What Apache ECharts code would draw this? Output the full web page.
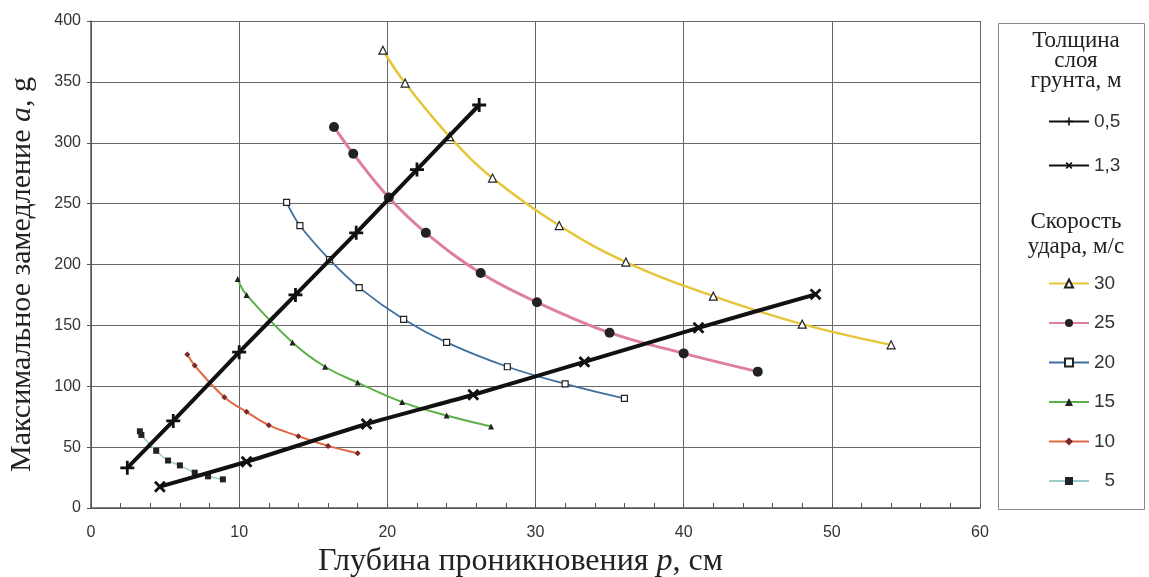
<!DOCTYPE html>
<html>
<head>
<meta charset="utf-8">
<script src="https://cdn.jsdelivr.net/npm/echarts@6/dist/echarts.min.js"></script>
<style>
  html, body { margin: 0; padding: 0; background: #fff; }
  #chart { width: 1149px; height: 577px; }
</style>
</head>
<body>
<div id="chart"></div>
<script>
// скорость удара, м/с: глубина p (см) и замедление a (g)
const depth30 = [19.7, 21.2, 24.2, 27.1, 31.6, 36.1, 42.0, 48.0, 54.0];
const accel30 = [376, 349, 305, 271, 232, 202, 174, 151, 134];
const depth25 = [16.4, 17.7, 20.1, 22.6, 26.3, 30.1, 35.0, 40.0, 45.0];
const accel25 = [313, 291, 255, 226, 193, 169, 144, 127, 112];
const depth20 = [13.2, 14.1, 16.1, 18.1, 21.1, 24.0, 28.1, 32.0, 36.0];
const accel20 = [251, 232, 204, 181, 155, 136, 116, 102, 90];
const depth15 = [9.9, 10.5, 13.6, 15.8, 18.0, 21.0, 24.0, 27.0];
const accel15 = [188, 175, 136, 116, 103, 87, 76, 67];
const depth10 = [6.5, 7.0, 9.0, 10.5, 12.0, 14.0, 16.0, 18.0];
const accel10 = [126, 117, 91, 79, 68, 59, 51, 45];
const depth5 = [3.3, 3.4, 4.4, 5.2, 6.0, 7.0, 7.9, 8.9];
const accel5 = [63, 60, 47, 39, 35, 29, 26, 23.5];

// толщина слоя грунта, м
const depthL05 = [2.45, 5.55, 10.0, 13.8, 17.9, 22.0, 26.2];
const accelL05 = [33, 71.5, 128, 175, 226, 278, 331];
const depthL13 = [4.65, 10.5, 18.6, 25.8, 33.3, 41.0, 48.9];
const accelL13 = [17.5, 38, 69, 93, 120, 148, 175.5];

const xTicks = [0, 10, 20, 30, 40, 50, 60];
const yTicks = [0, 50, 100, 150, 200, 250, 300, 350, 400];

const zip = (xs, ys) => xs.map((x, i) => [x, ys[i]]);

const crossPath = "path://M4,0 H6 V4 H10 V6 H6 V10 H4 V6 H0 V4 H4 Z";

const speedSeries = (name, xs, ys, color, symbol, size, fill, width) => ({
  name: name,
  type: "line",
  smooth: 0.4,
  data: zip(xs, ys),
  symbol: symbol,
  symbolSize: size,
  showSymbol: true,
  lineStyle: { color: color, width: width },
  itemStyle: { color: fill, borderColor: "#222", borderWidth: fill === "#fff" ? 1.2 : 0 },
  z: 2,
});

const layerSeries = (name, xs, ys, rotate) => ({
  name: name,
  type: "line",
  smooth: 0.2,
  data: zip(xs, ys),
  symbol: crossPath,
  symbolSize: 14,
  symbolRotate: rotate,
  lineStyle: { color: "#111", width: 4 },
  itemStyle: { color: "#111" },
  z: 4,
});

const legendText = { fontFamily: "Liberation Sans", fontSize: 19, color: "#333" };

const chart = echarts.init(document.getElementById("chart"));
const option = {
  backgroundColor: "#fff",
  animation: false,
  grid: { left: 91, right: 169, top: 21, bottom: 69, outerBoundsMode: "none" },
  xAxis: {
    type: "value",
    min: 0,
    max: 60,
    interval: 10,
    name: "{n|Глубина проникновения }{i|p}{n|, см}",
    nameLocation: "middle",
    nameGap: 38,
    nameTextStyle: {
      padding: [0, 30, 0, 0],
      rich: {
        n: { fontFamily: "Liberation Serif", fontSize: 32, color: "#222" },
        i: { fontFamily: "Liberation Serif", fontSize: 32, fontStyle: "italic", color: "#222" },
      },
    },
    axisLine: { lineStyle: { color: "#555", width: 1.5 } },
    axisTick: { show: true, inside: true, length: 5, lineStyle: { color: "#555" } },
    minorTick: { show: true, splitNumber: 5, length: 5, lineStyle: { color: "#555" } },
    axisLabel: {
      fontFamily: "Liberation Sans",
      fontSize: 16,
      color: "#333",
      margin: 17,
      formatter: (v) => (xTicks.includes(v) ? String(v) : ""),
    },
    splitLine: { show: true, lineStyle: { color: "#666", width: 1 } },
  },
  yAxis: {
    type: "value",
    min: 0,
    max: 400,
    interval: 50,
    name: "{n|Максимальное замедление }{i|a}{n|, g}",
    nameLocation: "middle",
    nameGap: 54,
    nameTextStyle: {
      padding: [0, 20, 0, 0],
      rich: {
        n: { fontFamily: "Liberation Serif", fontSize: 30, color: "#222" },
        i: { fontFamily: "Liberation Serif", fontSize: 30, fontStyle: "italic", color: "#222" },
      },
    },
    axisLine: { show: true, lineStyle: { color: "#555", width: 1.5 } },
    axisTick: { show: true, length: 4, lineStyle: { color: "#555" } },
    axisLabel: {
      fontFamily: "Liberation Sans",
      fontSize: 16,
      color: "#333",
      margin: 10,
      formatter: (v) => (yTicks.includes(v) ? String(v) : ""),
    },
    splitLine: { show: true, lineStyle: { color: "#666", width: 1 } },
  },
  legend: [
    {
      data: ["0,5", "1,3"],
      orient: "vertical",
      left: 1043,
      top: 107,
      itemWidth: 40,
      itemHeight: 10,
      itemGap: 25,
      selectedMode: false,
      textStyle: legendText,
    },
    {
      data: ["30", "25", "20", "15", "10", "5"],
      orient: "vertical",
      left: 1043,
      top: 269,
      itemWidth: 40,
      itemHeight: 10,
      itemGap: 20.5,
      selectedMode: false,
      formatter: (n) => (n.length < 2 ? "  " + n : n),
      textStyle: legendText,
    },
  ],
  graphic: [
    {
      type: "rect",
      shape: { x: 998.5, y: 23.5, width: 146, height: 486 },
      style: { fill: "none", stroke: "#888", lineWidth: 1 },
      silent: true,
    },
    {
      type: "text",
      x: 1076,
      y: 31,
      style: {
        text: "Толщина\nслоя\nгрунта, м",
        fontFamily: "Liberation Serif",
        fontSize: 23,
        lineHeight: 20,
        fill: "#222",
        align: "center",
      },
    },
    {
      type: "text",
      x: 1076,
      y: 209,
      style: {
        text: "Скорость\nудара, м/с",
        fontFamily: "Liberation Serif",
        fontSize: 23,
        lineHeight: 25,
        fill: "#222",
        align: "center",
      },
    },
  ],
  series: [
    speedSeries("30", depth30, accel30, "#E6C53A", "triangle", 8, "#fff", 2.5),
    speedSeries("25", depth25, accel25, "#DE7FA2", "circle", 10, "#222", 3),
    speedSeries("20", depth20, accel20, "#3E6F9F", "rect", 6, "#fff", 1.8),
    speedSeries("15", depth15, accel15, "#5DAF47", "triangle", 6, "#222", 2),
    speedSeries("10", depth10, accel10, "#DF6A45", "diamond", 6, "#7a2a2a", 2),
    speedSeries("5", depth5, accel5, "#9CCBCB", "rect", 6, "#222", 1.5),
    layerSeries("0,5", depthL05, accelL05, 0),
    layerSeries("1,3", depthL13, accelL13, 45),
  ],
};
chart.setOption(option);
</script>
</body>
</html>
